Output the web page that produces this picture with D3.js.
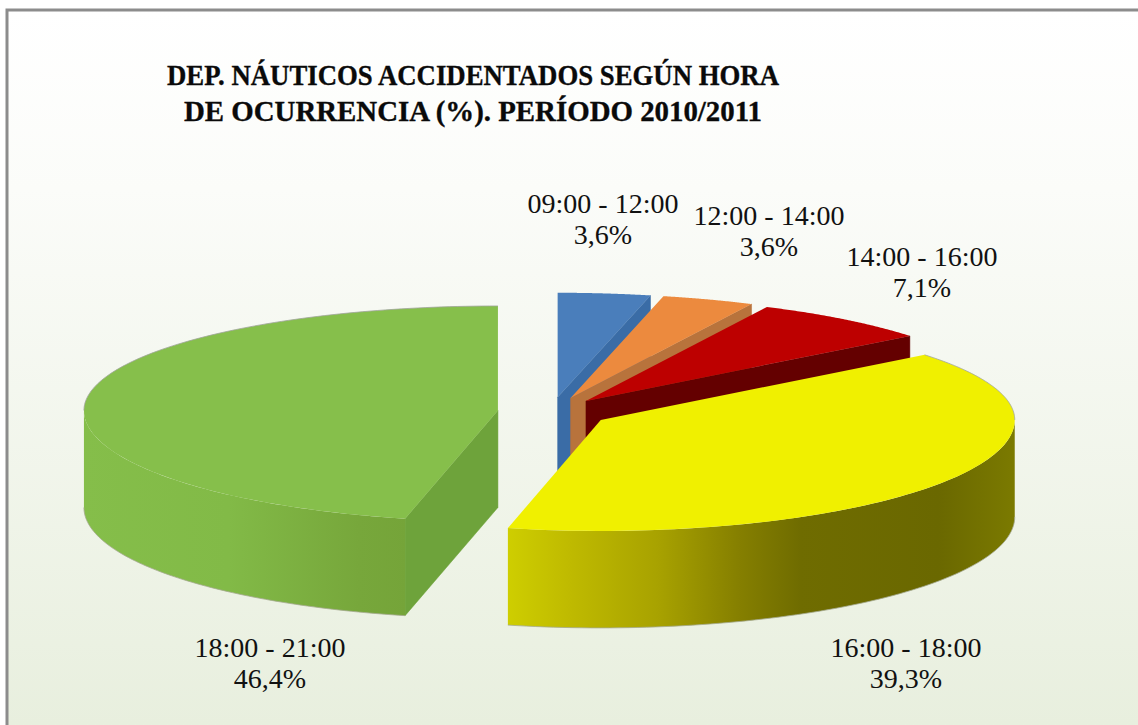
<!DOCTYPE html>
<html><head><meta charset="utf-8">
<script src="https://cdn.jsdelivr.net/npm/d3@7"></script>
<style>html,body{margin:0;padding:0;background:#fff}svg{display:block}</style>
</head><body><div id="c"></div>
<script>
const categories = ["09:00 - 12:00","12:00 - 14:00","14:00 - 16:00","16:00 - 18:00","18:00 - 21:00"];
const values = [3.6,3.6,7.1,39.3,46.4];
const valueLabels = ["3,6%","3,6%","7,1%","39,3%","46,4%"];
const titleLines = ["DEP. NÁUTICOS ACCIDENTADOS SEGÚN HORA","DE OCURRENCIA (%). PERÍODO 2010/2011"];
const titleWidths = [612,578];
const topColors = ["#4a7ebb","#ec8a3e","#bd0000","#f0f000","#86bf4b"];
const wallColors = ["#3a6ca6","#b8733c","#640000","#cccc00","#6ea33b"];
const explosion = [0.142,0.142,0.135,0.142,0.129];
const labelAnchors = [[603,213],[769,225],[922,266],[906,657],[270,657]];

const W=1138,H=725, cx=551, cy=412, rx=414, ryFar=104.5, ryNear=111, depth=97;
const svg=d3.select("#c").append("svg").attr("width",W).attr("height",H);
const defs=svg.append("defs");
const bg=defs.append("linearGradient").attr("id","bg").attr("x1",0).attr("y1",0).attr("x2",0).attr("y2",1);
[[0,"#ffffff"],[0.25,"#fbfcf9"],[1,"#e8efde"]].forEach(s=>bg.append("stop").attr("offset",s[0]).attr("stop-color",s[1]));
const yg=defs.append("linearGradient").attr("id","yw").attr("gradientUnits","userSpaceOnUse").attr("x1",505).attr("x2",1015).attr("y1",0).attr("y2",0);
[[0,"#cfcf00"],[0.12,"#c0bb00"],[0.3,"#a8a200"],[0.46,"#857f00"],[0.58,"#6f6c00"],[0.85,"#6a6800"],[1,"#7b7a00"]].forEach(s=>yg.append("stop").attr("offset",s[0]).attr("stop-color",s[1]));
const gg=defs.append("linearGradient").attr("id","gw").attr("gradientUnits","userSpaceOnUse").attr("x1",82).attr("x2",407).attr("y1",0).attr("y2",0);
[[0,"#85be4a"],[0.45,"#82ba47"],[0.85,"#77a73b"],[1,"#75a439"]].forEach(s=>gg.append("stop").attr("offset",s[0]).attr("stop-color",s[1]));

svg.append("rect").attr("x",7).attr("y",10).attr("width",W-7).attr("height",H-10).attr("fill","url(#bg)");
svg.append("path").attr("d",`M7,${H}V10H${W}`).attr("fill","none").attr("stroke","#8c8c8c").attr("stroke-width",3);

const pie=d3.pie().sort(null).value(d=>d);
const arcs=pie(values);
const ryAt=t=>Math.cos(t)>0?ryFar:ryNear;
const apex=(a,i)=>{const m=(a.startAngle+a.endAngle)/2;
  return [cx+explosion[i]*rx*Math.sin(m), cy-explosion[i]*ryFar*Math.cos(m)];};
const rim=(p,t,dz=0)=>[p[0]+rx*Math.sin(t), p[1]-ryAt(t)*Math.cos(t)+dz];
const line=d3.line();
const samples=(a,b)=>d3.range(0,81).map(k=>a+(b-a)*k/80);

const order=[4,0,1,2,3];
const g=svg.append("g");
order.forEach(i=>{
  const a=arcs[i], p=apex(a,i), s=a.startAngle, e=a.endAngle;
  const gs=g.append("g");
  const wall=(t,fill)=>gs.append("path")
     .attr("d",line([p,rim(p,t),rim(p,t,depth),[p[0],p[1]+depth]])+"Z")
     .attr("fill",fill).attr("stroke",fill).attr("stroke-width",0.5);
  if(i===4){ wall(s,wallColors[i]); }
  else if(i<3){ wall(e,wallColors[i]); }
  const ns=Math.max(s,Math.PI/2), ne=Math.min(e,3*Math.PI/2);
  if(ne>ns){
    const ts=samples(ns,ne);
    const pts=ts.map(t=>rim(p,t)).concat(ts.slice().reverse().map(t=>rim(p,t,depth)));
    gs.append("path").attr("d",line(pts)+"Z")
      .attr("fill",i===3?"url(#yw)":"url(#gw)").attr("stroke","none");
    gs.append("path").attr("d",line(ts.map(t=>rim(p,t,depth))))
      .attr("fill","none").attr("stroke","#a5a98f").attr("stroke-width",0.8);
  }
  const top=[p].concat(samples(s,e).map(t=>rim(p,t)));
  gs.append("path").attr("d",line(top)+"Z").attr("fill",topColors[i]);
  // thin outline along the far side of the rim only
  if(i>=3){
    const fs=i===3?s:Math.PI*1.5, fe=i===3?Math.PI/2:e;
    gs.append("path").attr("d",line(samples(fs,fe).map(t=>rim(p,t))))
      .attr("fill","none").attr("stroke","#a0a59a").attr("stroke-width",0.8);
  }
});

const font='"Liberation Serif",serif';
svg.append("g").selectAll("text").data(titleLines).join("text")
  .attr("x",473).attr("y",(d,i)=>85+i*36).attr("text-anchor","middle")
  .attr("font-family",font).attr("font-weight","bold").attr("font-size",29).attr("fill","#0a0a0a")
  .attr("stroke","#0a0a0a").attr("stroke-width",0.35)
  .attr("textLength",(d,i)=>titleWidths[i]).attr("lengthAdjust","spacingAndGlyphs")
  .text(d=>d);
const lab=svg.append("g").selectAll("g").data(categories).join("g");
lab.append("text").attr("x",(d,i)=>labelAnchors[i][0]).attr("y",(d,i)=>labelAnchors[i][1])
  .attr("text-anchor","middle").attr("font-family",font).attr("font-size",28).attr("fill","#111").text(d=>d);
lab.append("text").attr("x",(d,i)=>labelAnchors[i][0]).attr("y",(d,i)=>labelAnchors[i][1]+31)
  .attr("text-anchor","middle").attr("font-family",font).attr("font-size",28).attr("fill","#111").text((d,i)=>valueLabels[i]);
</script></body></html>
